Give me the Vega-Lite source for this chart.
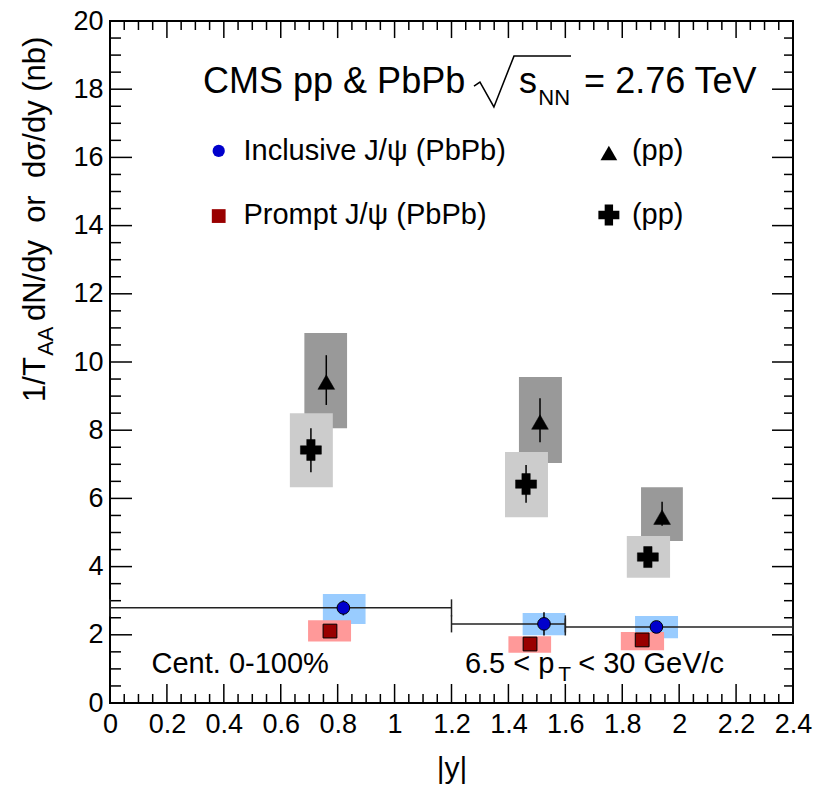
{
  "$schema": "https://vega.github.io/schema/vega-lite/v6.json",
  "width": 683,
  "height": 682,
  "autosize": {"type": "none"},
  "padding": {"left": 110, "top": 21, "right": 22, "bottom": 87},
  "background": "white",
  "config": {
    "view": {"stroke": "black", "strokeWidth": 2},
    "axis": {"grid": false, "domain": false, "labelFont": "Liberation Sans", "titleFont": "Liberation Sans", "labelColor": "black", "tickColor": "black", "titleColor": "black", "titleFontWeight": "normal", "labelFontSize": 27, "labelOverlap": false, "labelBound": false, "labelFlush": false}
  },
  "datasets": {
    "xmaj": [{"v": 0}, {"v": 0.2}, {"v": 0.4}, {"v": 0.6}, {"v": 0.8}, {"v": 1}, {"v": 1.2}, {"v": 1.4}, {"v": 1.6}, {"v": 1.8}, {"v": 2}, {"v": 2.2}, {"v": 2.4}],
    "xmin": [{"v": 0.05}, {"v": 0.1}, {"v": 0.15}, {"v": 0.25}, {"v": 0.3}, {"v": 0.35}, {"v": 0.45}, {"v": 0.5}, {"v": 0.55}, {"v": 0.65}, {"v": 0.7}, {"v": 0.75}, {"v": 0.85}, {"v": 0.9}, {"v": 0.95}, {"v": 1.05}, {"v": 1.1}, {"v": 1.15}, {"v": 1.25}, {"v": 1.3}, {"v": 1.35}, {"v": 1.45}, {"v": 1.5}, {"v": 1.55}, {"v": 1.65}, {"v": 1.7}, {"v": 1.75}, {"v": 1.85}, {"v": 1.9}, {"v": 1.95}, {"v": 2.05}, {"v": 2.1}, {"v": 2.15}, {"v": 2.25}, {"v": 2.3}, {"v": 2.35}],
    "ymaj": [{"v": 0}, {"v": 2}, {"v": 4}, {"v": 6}, {"v": 8}, {"v": 10}, {"v": 12}, {"v": 14}, {"v": 16}, {"v": 18}, {"v": 20}],
    "ymin": [{"v": 0.5}, {"v": 1}, {"v": 1.5}, {"v": 2.5}, {"v": 3}, {"v": 3.5}, {"v": 4.5}, {"v": 5}, {"v": 5.5}, {"v": 6.5}, {"v": 7}, {"v": 7.5}, {"v": 8.5}, {"v": 9}, {"v": 9.5}, {"v": 10.5}, {"v": 11}, {"v": 11.5}, {"v": 12.5}, {"v": 13}, {"v": 13.5}, {"v": 14.5}, {"v": 15}, {"v": 15.5}, {"v": 16.5}, {"v": 17}, {"v": 17.5}, {"v": 18.5}, {"v": 19}, {"v": 19.5}],
    "tri": [
      {"x": 0.760, "y": 9.41, "lo": 8.74, "hi": 10.20, "bx1": 0.683, "bx2": 0.833, "by1": 8.06, "by2": 10.85},
      {"x": 1.511, "y": 8.24, "lo": 7.65, "hi": 8.94, "bx1": 1.437, "bx2": 1.588, "by1": 7.04, "by2": 9.56},
      {"x": 1.940, "y": 5.45, "lo": 5.20, "hi": 5.90, "bx1": 1.866, "bx2": 2.013, "by1": 4.75, "by2": 6.33}
    ],
    "crs": [
      {"x": 0.706, "y": 7.42, "lo": 6.77, "hi": 8.06, "bx1": 0.632, "bx2": 0.783, "by1": 6.33, "by2": 8.50},
      {"x": 1.462, "y": 6.42, "lo": 5.87, "hi": 6.98, "bx1": 1.388, "bx2": 1.539, "by1": 5.45, "by2": 7.36},
      {"x": 1.890, "y": 4.28, "lo": 4.00, "hi": 4.55, "bx1": 1.816, "bx2": 1.968, "by1": 3.67, "by2": 4.90}
    ],
    "incl": [
      {"x": 0.820, "y": 2.79, "lo": 2.57, "hi": 3.01, "bx1": 0.748, "bx2": 0.898, "by1": 2.32, "by2": 3.20, "xlo": 0, "xhi": 1.2},
      {"x": 1.525, "y": 2.32, "lo": 1.98, "hi": 2.66, "bx1": 1.450, "bx2": 1.600, "by1": 1.99, "by2": 2.64, "xlo": 1.2, "xhi": 1.6},
      {"x": 1.920, "y": 2.23, "lo": 2.08, "hi": 2.38, "bx1": 1.845, "bx2": 1.996, "by1": 1.90, "by2": 2.55, "xlo": 1.6, "xhi": 2.4}
    ],
    "prm": [
      {"x": 0.773, "y": 2.11, "lo": 1.95, "hi": 2.27, "bx1": 0.696, "bx2": 0.847, "by1": 1.80, "by2": 2.43},
      {"x": 1.476, "y": 1.73, "lo": 1.55, "hi": 1.92, "bx1": 1.400, "bx2": 1.550, "by1": 1.47, "by2": 1.96},
      {"x": 1.870, "y": 1.85, "lo": 1.72, "hi": 1.98, "bx1": 1.795, "bx2": 1.947, "by1": 1.55, "by2": 2.08}
    ],
    "caps": [
      {"x": 0, "lo": 2.54, "hi": 3.04}, {"x": 1.2, "lo": 2.54, "hi": 3.04},
      {"x": 1.2, "lo": 2.07, "hi": 2.57}, {"x": 1.6, "lo": 2.07, "hi": 2.57},
      {"x": 1.6, "lo": 1.98, "hi": 2.48}, {"x": 2.4, "lo": 1.98, "hi": 2.48}
    ],
    "legmk": [
      {"s": "circle", "x": 0.382, "y": 16.19},
      {"s": "square", "x": 0.382, "y": 14.28},
      {"s": "tri", "x": 1.753, "y": 16.13},
      {"s": "cross", "x": 1.753, "y": 14.31}
    ],
    "legtx": [
      {"x": 0.469, "y": 15.92, "t": "Inclusive J/ψ (PbPb)"},
      {"x": 0.469, "y": 14.05, "t": "Prompt J/ψ (PbPb)"},
      {"x": 1.834, "y": 15.92, "t": "(pp)"},
      {"x": 1.834, "y": 14.05, "t": "(pp)"}
    ],
    "ttl": [
      {"x": 0.327, "y": 17.89, "t": "CMS pp & PbPb"},
      {"x": 1.437, "y": 17.89, "t": "s"},
      {"x": 1.666, "y": 17.89, "t": "= 2.76 TeV"}
    ],
    "ttlsub": [{"x": 1.505, "y": 17.54, "t": "NN"}],
    "rad": [
      {"o": 1, "x": 1.279, "y": 18.09},
      {"o": 2, "x": 1.300, "y": 18.21},
      {"o": 3, "x": 1.349, "y": 17.48},
      {"o": 4, "x": 1.4195, "y": 18.97},
      {"o": 5, "x": 1.620, "y": 18.97}
    ],
    "bot": [
      {"x": 0.146, "y": 0.88, "t": "Cent. 0-100%"},
      {"x": 1.247, "y": 0.88, "t": "6.5 < p"},
      {"x": 1.645, "y": 0.88, "t": "< 30 GeV/c"}
    ],
    "botsub": [{"x": 1.575, "y": 0.64, "t": "T"}],
    "ytl": [
      {"x": -0.228, "y": 8.83, "t": "1/T"},
      {"x": -0.228, "y": 11.2, "t": "dN/dy\u00a0\u00a0or\u00a0\u00a0dσ/dy (nb)"}
    ],
    "ytlsub": [{"x": -0.2, "y": 10.18, "t": "AA"}]
  },
  "resolve": {"axis": {"x": "independent", "y": "independent"}},
  "layer": [
    {
      "data": {"name": "tri"},
      "mark": {"type": "rect", "color": "#999999"},
      "encoding": {
        "x": {"field": "bx1", "type": "quantitative", "scale": {"domain": [0, 2.4], "nice": false, "zero": false},
          "axis": {"orient": "bottom", "values": [0, 0.2, 0.4, 0.6, 0.8, 1, 1.2, 1.4, 1.6, 1.8, 2, 2.2, 2.4], "ticks": false, "format": "~g", "labelPadding": 8, "title": "|y|", "titleFontSize": 30, "titlePadding": 16}},
        "x2": {"field": "bx2"},
        "y": {"field": "by1", "type": "quantitative", "scale": {"domain": [0, 20], "nice": false, "zero": false},
          "axis": {"orient": "left", "values": [0, 2, 4, 6, 8, 10, 12, 14, 16, 18, 20], "ticks": false, "format": "~g", "labelPadding": 7, "title": null}},
        "y2": {"field": "by2"}
      }
    },
    {
      "data": {"name": "crs"},
      "mark": {"type": "rect", "color": "#cccccc"},
      "encoding": {
        "x": {"field": "bx1", "type": "quantitative", "scale": {"domain": [0, 2.4], "nice": false, "zero": false}, "axis": null},
        "x2": {"field": "bx2"},
        "y": {"field": "by1", "type": "quantitative", "scale": {"domain": [0, 20], "nice": false, "zero": false}, "axis": null},
        "y2": {"field": "by2"}
      }
    },
    {
      "data": {"name": "incl"},
      "mark": {"type": "rect", "color": "#99ccff"},
      "encoding": {
        "x": {"field": "bx1", "type": "quantitative", "scale": {"domain": [0, 2.4], "nice": false, "zero": false}, "axis": null},
        "x2": {"field": "bx2"},
        "y": {"field": "by1", "type": "quantitative", "scale": {"domain": [0, 20], "nice": false, "zero": false}, "axis": null},
        "y2": {"field": "by2"}
      }
    },
    {
      "data": {"name": "prm"},
      "mark": {"type": "rect", "color": "#ff9999"},
      "encoding": {
        "x": {"field": "bx1", "type": "quantitative", "scale": {"domain": [0, 2.4], "nice": false, "zero": false}, "axis": null},
        "x2": {"field": "bx2"},
        "y": {"field": "by1", "type": "quantitative", "scale": {"domain": [0, 20], "nice": false, "zero": false}, "axis": null},
        "y2": {"field": "by2"}
      }
    },
    {
      "data": {"name": "xmaj"},
      "mark": {"type": "rule", "color": "black", "strokeWidth": 1.5},
      "encoding": {
        "x": {"field": "v", "type": "quantitative", "scale": {"domain": [0, 2.4], "nice": false, "zero": false}, "axis": null},
        "y": {"datum": 0.001, "type": "quantitative", "scale": {"domain": [0, 20], "nice": false, "zero": false}, "axis": null},
        "y2": {"datum": 0.557}
      }
    },
    {
      "data": {"name": "xmaj"},
      "mark": {"type": "rule", "color": "black", "strokeWidth": 1.5},
      "encoding": {
        "x": {"field": "v", "type": "quantitative", "scale": {"domain": [0, 2.4], "nice": false, "zero": false}, "axis": null},
        "y": {"datum": 20, "type": "quantitative", "scale": {"domain": [0, 20], "nice": false, "zero": false}, "axis": null},
        "y2": {"datum": 19.50}
      }
    },
    {
      "data": {"name": "xmin"},
      "mark": {"type": "rule", "color": "black", "strokeWidth": 1.5},
      "encoding": {
        "x": {"field": "v", "type": "quantitative", "scale": {"domain": [0, 2.4], "nice": false, "zero": false}, "axis": null},
        "y": {"datum": 0.001, "type": "quantitative", "scale": {"domain": [0, 20], "nice": false, "zero": false}, "axis": null},
        "y2": {"datum": 0.264}
      }
    },
    {
      "data": {"name": "xmin"},
      "mark": {"type": "rule", "color": "black", "strokeWidth": 1.5},
      "encoding": {
        "x": {"field": "v", "type": "quantitative", "scale": {"domain": [0, 2.4], "nice": false, "zero": false}, "axis": null},
        "y": {"datum": 20, "type": "quantitative", "scale": {"domain": [0, 20], "nice": false, "zero": false}, "axis": null},
        "y2": {"datum": 19.736}
      }
    },
    {
      "data": {"name": "ymaj"},
      "mark": {"type": "rule", "color": "black", "strokeWidth": 1.5},
      "encoding": {
        "y": {"field": "v", "type": "quantitative", "scale": {"domain": [0, 20], "nice": false, "zero": false}, "axis": null},
        "x": {"datum": 0.0773, "type": "quantitative", "scale": {"domain": [0, 2.4], "nice": false, "zero": false}, "axis": null},
        "x2": {"datum": 0.0001}
      }
    },
    {
      "data": {"name": "ymaj"},
      "mark": {"type": "rule", "color": "black", "strokeWidth": 1.5},
      "encoding": {
        "y": {"field": "v", "type": "quantitative", "scale": {"domain": [0, 20], "nice": false, "zero": false}, "axis": null},
        "x": {"datum": 2.4, "type": "quantitative", "scale": {"domain": [0, 2.4], "nice": false, "zero": false}, "axis": null},
        "x2": {"datum": 2.3262}
      }
    },
    {
      "data": {"name": "ymin"},
      "mark": {"type": "rule", "color": "black", "strokeWidth": 1.5},
      "encoding": {
        "y": {"field": "v", "type": "quantitative", "scale": {"domain": [0, 20], "nice": false, "zero": false}, "axis": null},
        "x": {"datum": 0.0387, "type": "quantitative", "scale": {"domain": [0, 2.4], "nice": false, "zero": false}, "axis": null},
        "x2": {"datum": 0.0001}
      }
    },
    {
      "data": {"name": "ymin"},
      "mark": {"type": "rule", "color": "black", "strokeWidth": 1.5},
      "encoding": {
        "y": {"field": "v", "type": "quantitative", "scale": {"domain": [0, 20], "nice": false, "zero": false}, "axis": null},
        "x": {"datum": 2.4, "type": "quantitative", "scale": {"domain": [0, 2.4], "nice": false, "zero": false}, "axis": null},
        "x2": {"datum": 2.3684}
      }
    },
    {
      "data": {"name": "incl"},
      "mark": {"type": "rule", "color": "#222222", "strokeWidth": 1.5},
      "encoding": {
        "x": {"field": "xlo", "type": "quantitative", "scale": {"domain": [0, 2.4], "nice": false, "zero": false}, "axis": null},
        "x2": {"field": "xhi"},
        "y": {"field": "y", "type": "quantitative", "scale": {"domain": [0, 20], "nice": false, "zero": false}, "axis": null}
      }
    },
    {
      "data": {"name": "caps"},
      "mark": {"type": "rule", "color": "#222222", "strokeWidth": 1.5},
      "encoding": {
        "x": {"field": "x", "type": "quantitative", "scale": {"domain": [0, 2.4], "nice": false, "zero": false}, "axis": null},
        "y": {"field": "lo", "type": "quantitative", "scale": {"domain": [0, 20], "nice": false, "zero": false}, "axis": null},
        "y2": {"field": "hi"}
      }
    },
    {
      "data": {"name": "tri"},
      "mark": {"type": "rule", "color": "black", "strokeWidth": 1.5},
      "encoding": {
        "x": {"field": "x", "type": "quantitative", "scale": {"domain": [0, 2.4], "nice": false, "zero": false}, "axis": null},
        "y": {"field": "lo", "type": "quantitative", "scale": {"domain": [0, 20], "nice": false, "zero": false}, "axis": null},
        "y2": {"field": "hi"}
      }
    },
    {
      "data": {"name": "crs"},
      "mark": {"type": "rule", "color": "black", "strokeWidth": 1.5},
      "encoding": {
        "x": {"field": "x", "type": "quantitative", "scale": {"domain": [0, 2.4], "nice": false, "zero": false}, "axis": null},
        "y": {"field": "lo", "type": "quantitative", "scale": {"domain": [0, 20], "nice": false, "zero": false}, "axis": null},
        "y2": {"field": "hi"}
      }
    },
    {
      "data": {"name": "incl"},
      "mark": {"type": "rule", "color": "black", "strokeWidth": 1.5},
      "encoding": {
        "x": {"field": "x", "type": "quantitative", "scale": {"domain": [0, 2.4], "nice": false, "zero": false}, "axis": null},
        "y": {"field": "lo", "type": "quantitative", "scale": {"domain": [0, 20], "nice": false, "zero": false}, "axis": null},
        "y2": {"field": "hi"}
      }
    },
    {
      "data": {"name": "prm"},
      "mark": {"type": "rule", "color": "black", "strokeWidth": 1.5},
      "encoding": {
        "x": {"field": "x", "type": "quantitative", "scale": {"domain": [0, 2.4], "nice": false, "zero": false}, "axis": null},
        "y": {"field": "lo", "type": "quantitative", "scale": {"domain": [0, 20], "nice": false, "zero": false}, "axis": null},
        "y2": {"field": "hi"}
      }
    },
    {
      "data": {"name": "tri"},
      "mark": {"type": "point", "shape": "triangle-up", "filled": true, "fill": "black", "stroke": "black", "strokeWidth": 0.5, "size": 280, "opacity": 1},
      "encoding": {
        "x": {"field": "x", "type": "quantitative", "scale": {"domain": [0, 2.4], "nice": false, "zero": false}, "axis": null},
        "y": {"field": "y", "type": "quantitative", "scale": {"domain": [0, 20], "nice": false, "zero": false}, "axis": null}
      }
    },
    {
      "data": {"name": "crs"},
      "mark": {"type": "point", "shape": "cross", "filled": true, "fill": "black", "stroke": "black", "strokeWidth": 0.5, "size": 440, "opacity": 1},
      "encoding": {
        "x": {"field": "x", "type": "quantitative", "scale": {"domain": [0, 2.4], "nice": false, "zero": false}, "axis": null},
        "y": {"field": "y", "type": "quantitative", "scale": {"domain": [0, 20], "nice": false, "zero": false}, "axis": null}
      }
    },
    {
      "data": {"name": "incl"},
      "mark": {"type": "point", "shape": "circle", "filled": true, "fill": "#0000cc", "stroke": "black", "strokeWidth": 1, "size": 160, "opacity": 1},
      "encoding": {
        "x": {"field": "x", "type": "quantitative", "scale": {"domain": [0, 2.4], "nice": false, "zero": false}, "axis": null},
        "y": {"field": "y", "type": "quantitative", "scale": {"domain": [0, 20], "nice": false, "zero": false}, "axis": null}
      }
    },
    {
      "data": {"name": "prm"},
      "mark": {"type": "point", "shape": "square", "filled": true, "fill": "#990000", "stroke": "black", "strokeWidth": 1, "size": 190, "opacity": 1},
      "encoding": {
        "x": {"field": "x", "type": "quantitative", "scale": {"domain": [0, 2.4], "nice": false, "zero": false}, "axis": null},
        "y": {"field": "y", "type": "quantitative", "scale": {"domain": [0, 20], "nice": false, "zero": false}, "axis": null}
      }
    },
    {
      "data": {"name": "legmk"},
      "transform": [{"filter": "datum.s === 'circle'"}],
      "mark": {"type": "point", "shape": "circle", "filled": true, "fill": "#0000cc", "strokeWidth": 0, "size": 150, "opacity": 1},
      "encoding": {
        "x": {"field": "x", "type": "quantitative", "scale": {"domain": [0, 2.4], "nice": false, "zero": false}, "axis": null},
        "y": {"field": "y", "type": "quantitative", "scale": {"domain": [0, 20], "nice": false, "zero": false}, "axis": null}
      }
    },
    {
      "data": {"name": "legmk"},
      "transform": [{"filter": "datum.s === 'square'"}],
      "mark": {"type": "point", "shape": "square", "filled": true, "fill": "#990000", "strokeWidth": 0, "size": 190, "opacity": 1},
      "encoding": {
        "x": {"field": "x", "type": "quantitative", "scale": {"domain": [0, 2.4], "nice": false, "zero": false}, "axis": null},
        "y": {"field": "y", "type": "quantitative", "scale": {"domain": [0, 20], "nice": false, "zero": false}, "axis": null}
      }
    },
    {
      "data": {"name": "legmk"},
      "transform": [{"filter": "datum.s === 'tri'"}],
      "mark": {"type": "point", "shape": "triangle-up", "filled": true, "fill": "black", "strokeWidth": 0, "size": 280, "opacity": 1},
      "encoding": {
        "x": {"field": "x", "type": "quantitative", "scale": {"domain": [0, 2.4], "nice": false, "zero": false}, "axis": null},
        "y": {"field": "y", "type": "quantitative", "scale": {"domain": [0, 20], "nice": false, "zero": false}, "axis": null}
      }
    },
    {
      "data": {"name": "legmk"},
      "transform": [{"filter": "datum.s === 'cross'"}],
      "mark": {"type": "point", "shape": "cross", "filled": true, "fill": "black", "strokeWidth": 0, "size": 440, "opacity": 1},
      "encoding": {
        "x": {"field": "x", "type": "quantitative", "scale": {"domain": [0, 2.4], "nice": false, "zero": false}, "axis": null},
        "y": {"field": "y", "type": "quantitative", "scale": {"domain": [0, 20], "nice": false, "zero": false}, "axis": null}
      }
    },
    {
      "data": {"name": "legtx"},
      "mark": {"type": "text", "align": "left", "baseline": "alphabetic", "font": "Liberation Sans", "fontSize": 29, "color": "black"},
      "encoding": {
        "x": {"field": "x", "type": "quantitative", "scale": {"domain": [0, 2.4], "nice": false, "zero": false}, "axis": null},
        "y": {"field": "y", "type": "quantitative", "scale": {"domain": [0, 20], "nice": false, "zero": false}, "axis": null},
        "text": {"field": "t"}
      }
    },
    {
      "data": {"name": "ttl"},
      "mark": {"type": "text", "align": "left", "baseline": "alphabetic", "font": "Liberation Sans", "fontSize": 36, "color": "black"},
      "encoding": {
        "x": {"field": "x", "type": "quantitative", "scale": {"domain": [0, 2.4], "nice": false, "zero": false}, "axis": null},
        "y": {"field": "y", "type": "quantitative", "scale": {"domain": [0, 20], "nice": false, "zero": false}, "axis": null},
        "text": {"field": "t"}
      }
    },
    {
      "data": {"name": "ttlsub"},
      "mark": {"type": "text", "align": "left", "baseline": "alphabetic", "font": "Liberation Sans", "fontSize": 22, "color": "black"},
      "encoding": {
        "x": {"field": "x", "type": "quantitative", "scale": {"domain": [0, 2.4], "nice": false, "zero": false}, "axis": null},
        "y": {"field": "y", "type": "quantitative", "scale": {"domain": [0, 20], "nice": false, "zero": false}, "axis": null},
        "text": {"field": "t"}
      }
    },
    {
      "data": {"name": "rad"},
      "mark": {"type": "line", "color": "black", "strokeWidth": 1.5},
      "encoding": {
        "x": {"field": "x", "type": "quantitative", "scale": {"domain": [0, 2.4], "nice": false, "zero": false}, "axis": null},
        "y": {"field": "y", "type": "quantitative", "scale": {"domain": [0, 20], "nice": false, "zero": false}, "axis": null},
        "order": {"field": "o", "type": "quantitative"}
      }
    },
    {
      "data": {"name": "bot"},
      "mark": {"type": "text", "align": "left", "baseline": "alphabetic", "font": "Liberation Sans", "fontSize": 29, "color": "black"},
      "encoding": {
        "x": {"field": "x", "type": "quantitative", "scale": {"domain": [0, 2.4], "nice": false, "zero": false}, "axis": null},
        "y": {"field": "y", "type": "quantitative", "scale": {"domain": [0, 20], "nice": false, "zero": false}, "axis": null},
        "text": {"field": "t"}
      }
    },
    {
      "data": {"name": "botsub"},
      "mark": {"type": "text", "align": "left", "baseline": "alphabetic", "font": "Liberation Sans", "fontSize": 21, "color": "black"},
      "encoding": {
        "x": {"field": "x", "type": "quantitative", "scale": {"domain": [0, 2.4], "nice": false, "zero": false}, "axis": null},
        "y": {"field": "y", "type": "quantitative", "scale": {"domain": [0, 20], "nice": false, "zero": false}, "axis": null},
        "text": {"field": "t"}
      }
    },
    {
      "data": {"name": "ytl"},
      "mark": {"type": "text", "align": "left", "baseline": "alphabetic", "angle": 270, "font": "Liberation Sans", "fontSize": 31, "color": "black"},
      "encoding": {
        "x": {"field": "x", "type": "quantitative", "scale": {"domain": [0, 2.4], "nice": false, "zero": false}, "axis": null},
        "y": {"field": "y", "type": "quantitative", "scale": {"domain": [0, 20], "nice": false, "zero": false}, "axis": null},
        "text": {"field": "t"}
      }
    },
    {
      "data": {"name": "ytlsub"},
      "mark": {"type": "text", "align": "left", "baseline": "alphabetic", "angle": 270, "font": "Liberation Sans", "fontSize": 22, "color": "black"},
      "encoding": {
        "x": {"field": "x", "type": "quantitative", "scale": {"domain": [0, 2.4], "nice": false, "zero": false}, "axis": null},
        "y": {"field": "y", "type": "quantitative", "scale": {"domain": [0, 20], "nice": false, "zero": false}, "axis": null},
        "text": {"field": "t"}
      }
    }
  ]
}
